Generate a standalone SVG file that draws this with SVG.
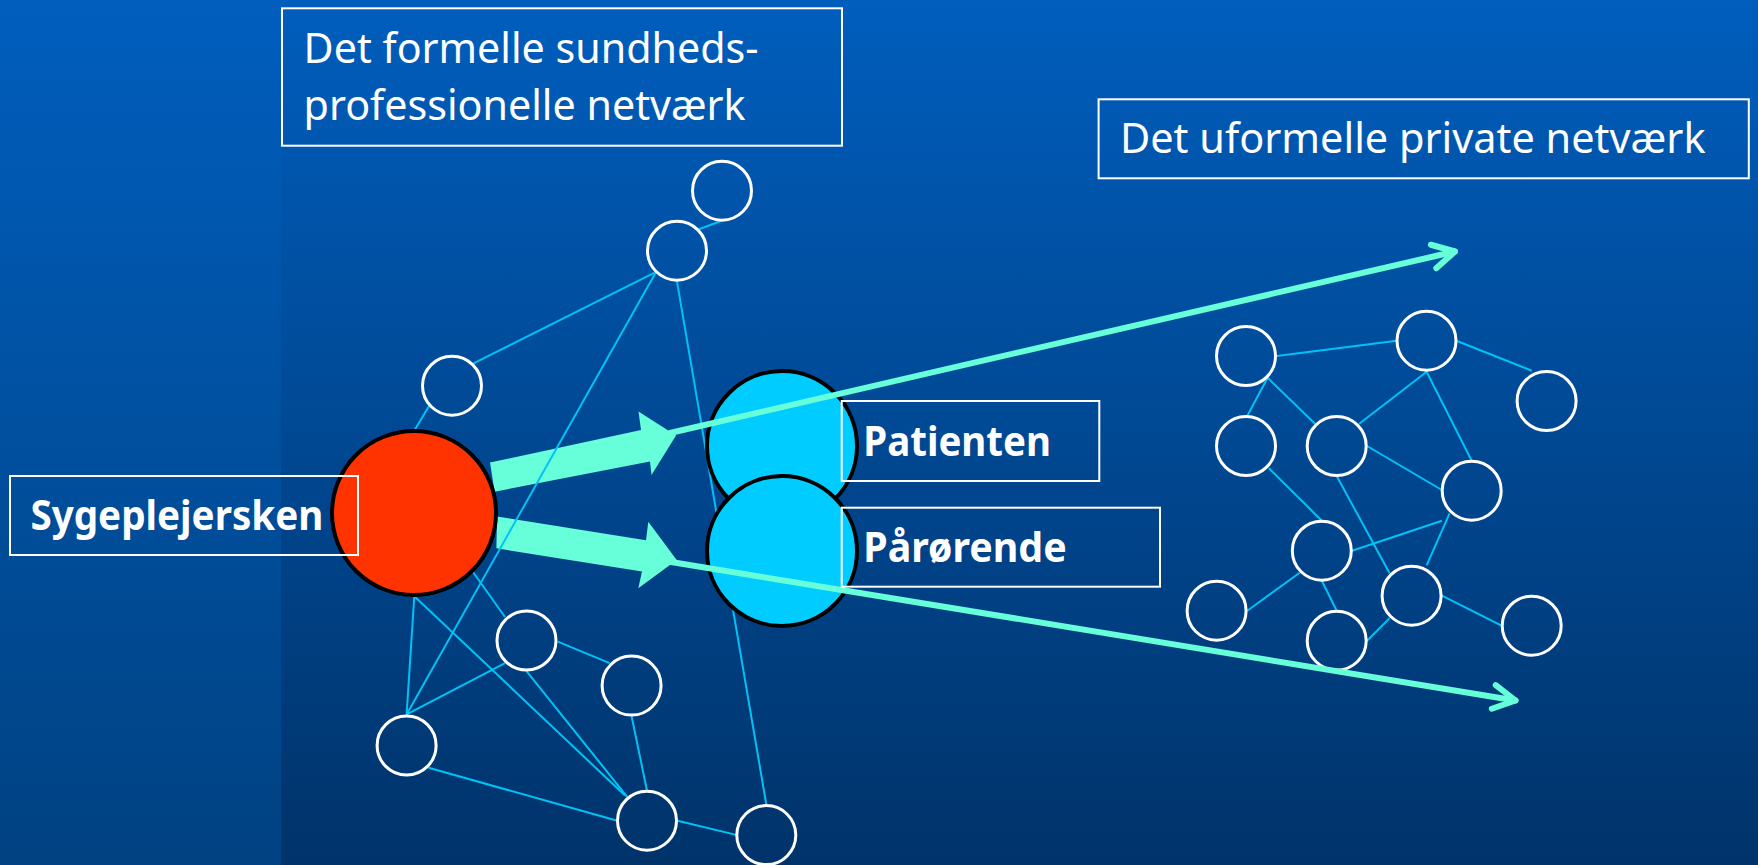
<svg xmlns="http://www.w3.org/2000/svg" width="1758" height="865" viewBox="0 0 1758 865">
<defs>
<linearGradient id="bgMain" x1="0" y1="0" x2="0" y2="1">
<stop offset="0" stop-color="#005EBD"/>
<stop offset="1" stop-color="#00336A"/>
</linearGradient>
<linearGradient id="bgLeft" x1="0" y1="0" x2="0" y2="1">
<stop offset="0" stop-color="#005EBD"/>
<stop offset="1" stop-color="#004282"/>
</linearGradient>
<marker id="openHead" viewBox="-30 -20 40 40" markerWidth="40" markerHeight="40" refX="0" refY="0" orient="auto" markerUnits="userSpaceOnUse">
<path d="M-22,-12 L0,0 L-22,12" fill="none" stroke="#66FFD9" stroke-width="6" stroke-linecap="round" stroke-linejoin="round"/>
</marker>
<style>
.net{stroke:#00C3F5;stroke-width:2;fill:none}
.node{fill:none;stroke:#FFFFFF;stroke-width:3}
.big{stroke:#000000;stroke-width:4}
.box{fill:none;stroke:#FFFFFF;stroke-width:2}
.reg{font-family:"Noto Sans","Open Sans","Liberation Sans",sans-serif;font-size:42px;fill:#FFFFFF}
.bold{font-family:"Noto Sans","Open Sans","Liberation Sans",sans-serif;font-size:42px;font-weight:bold;fill:#FFFFFF}
.block{fill:#66FFD9}
.thin{stroke:#66FFD9;stroke-width:6;fill:none;stroke-linecap:round}
</style>
</defs>

<rect x="0" y="0" width="1758" height="865" fill="url(#bgMain)"/>
<rect x="0" y="0" width="281" height="865" fill="url(#bgLeft)"/>

<g id="block-arrows">
<polygon class="block" points="490,462.5 641,430 638.5,411.5 676,435.5 651.5,475 650,461.5 494.6,491.7"/>
<polygon class="block" points="497,516.5 646,540.2 648.3,521.7 676.7,560 638.3,588.3 642,571.4 496.4,548.3"/>
</g>

<g id="connectors">
<line class="net" x1="721" y1="221" x2="699" y2="229.3"/>
<line class="net" x1="654.6" y1="272.7" x2="473.5" y2="363.3"/>
<line class="net" x1="655.6" y1="272.7" x2="406.6" y2="714.4"/>
<line class="net" x1="677" y1="281.7" x2="766.3" y2="804.5"/>
<line class="net" x1="430" y1="404.5" x2="414.3" y2="430.5"/>
<line class="net" x1="473" y1="572" x2="505" y2="617"/>
<line class="net" x1="414.3" y1="596.2" x2="406.6" y2="714.4"/>
<line class="net" x1="414.3" y1="596.2" x2="625" y2="795.5"/>
<line class="net" x1="557.7" y1="641.6" x2="609.7" y2="663.2"/>
<line class="net" x1="505" y1="663.2" x2="406.6" y2="714.4"/>
<line class="net" x1="526.5" y1="671.2" x2="627.6" y2="797.3"/>
<line class="net" x1="631.6" y1="716.2" x2="647" y2="790.8"/>
<line class="net" x1="428.6" y1="767.8" x2="617.3" y2="820.7"/>
<line class="net" x1="677.6" y1="820.7" x2="737.2" y2="835.1"/>

<line class="net" x1="1276.7" y1="356" x2="1396.8" y2="340.7"/>
<line class="net" x1="1456.4" y1="340.7" x2="1531.8" y2="370.7"/>
<line class="net" x1="1267.6" y1="377.7" x2="1247.3" y2="415.7"/>
<line class="net" x1="1267.6" y1="377.7" x2="1315" y2="423.7"/>
<line class="net" x1="1426.6" y1="371.7" x2="1359.3" y2="423.7"/>
<line class="net" x1="1426.6" y1="371.7" x2="1471.7" y2="460.7"/>
<line class="net" x1="1367" y1="446" x2="1441.9" y2="490"/>
<line class="net" x1="1269" y1="468.3" x2="1321.8" y2="520.7"/>
<line class="net" x1="1336.7" y1="476" x2="1389.6" y2="573.3"/>
<line class="net" x1="1441.9" y1="520.7" x2="1352.1" y2="550.7"/>
<line class="net" x1="1449.6" y1="513.3" x2="1426.6" y2="565.3"/>
<line class="net" x1="1299.7" y1="572.7" x2="1247.3" y2="610.7"/>
<line class="net" x1="1321.8" y1="580.7" x2="1336.7" y2="610.7"/>
<line class="net" x1="1367" y1="640.7" x2="1389.6" y2="618.3"/>
<line class="net" x1="1441.9" y1="595.7" x2="1501.5" y2="625.7"/>
</g>

<g id="node-L1"><circle class="node" cx="722" cy="190.7" r="29.5"/></g>
<g id="node-L2"><circle class="node" cx="677" cy="250.7" r="29.5"/></g>
<g id="node-L3"><circle class="node" cx="452" cy="385.7" r="29.5"/></g>
<g id="node-L4"><circle class="node" cx="526.5" cy="640.5" r="29.5"/></g>
<g id="node-L5"><circle class="node" cx="631.6" cy="685.6" r="29.5"/></g>
<g id="node-L6"><circle class="node" cx="406.6" cy="745.5" r="29.5"/></g>
<g id="node-L7"><circle class="node" cx="647" cy="820.7" r="29.5"/></g>
<g id="node-L8"><circle class="node" cx="766.3" cy="835.1" r="29.5"/></g>

<g id="node-R1"><circle class="node" cx="1246" cy="356" r="29.5"/></g>
<g id="node-R2"><circle class="node" cx="1426.5" cy="340.7" r="29.5"/></g>
<g id="node-R3"><circle class="node" cx="1546.6" cy="401" r="29.5"/></g>
<g id="node-R4"><circle class="node" cx="1246" cy="446" r="29.5"/></g>
<g id="node-R5"><circle class="node" cx="1336.7" cy="446" r="29.5"/></g>
<g id="node-R6"><circle class="node" cx="1471.7" cy="490.7" r="29.5"/></g>
<g id="node-R7"><circle class="node" cx="1321.8" cy="550.7" r="29.5"/></g>
<g id="node-R8"><circle class="node" cx="1411.6" cy="595.7" r="29.5"/></g>
<g id="node-R9"><circle class="node" cx="1216.6" cy="610.7" r="29.5"/></g>
<g id="node-R10"><circle class="node" cx="1336.7" cy="640.7" r="29.5"/></g>
<g id="node-R11"><circle class="node" cx="1531.7" cy="625.7" r="29.5"/></g>

<g id="node-sygeplejersken">
<circle class="big" cx="414" cy="513" r="82" fill="#FF3300"/>
<rect class="box" x="10" y="476" width="348" height="79"/>
<text class="bold" x="30.4" y="530" textLength="293" lengthAdjust="spacingAndGlyphs">Sygeplejersken</text>
</g>

<g id="node-patienten">
<circle class="big" cx="782" cy="446" r="75"/>
</g>
<g id="node-paaroerende">
<circle class="big" cx="782" cy="551" r="75"/>
</g>
<style>#node-patienten circle,#node-paaroerende circle{fill:#00CCFF}</style>

<g id="arrows-out">
<line class="thin" x1="670" y1="433" x2="1455" y2="251.5" marker-end="url(#openHead)"/>
<line class="thin" x1="668" y1="561.5" x2="1515.5" y2="700.5" marker-end="url(#openHead)"/>
</g>

<g id="label-patienten">
<rect class="box" x="841.7" y="401" width="257.6" height="80"/>
<text class="bold" x="863.3" y="456" textLength="187.7" lengthAdjust="spacingAndGlyphs">Patienten</text>
</g>
<g id="label-paaroerende">
<rect class="box" x="841.7" y="507.7" width="318.3" height="79"/>
<text class="bold" x="863.3" y="561.7" textLength="203.4" lengthAdjust="spacingAndGlyphs">Pårørende</text>
</g>

<g id="label-formelle">
<rect class="box" x="282" y="8.3" width="560" height="137.4"/>
<text class="reg" x="303.6" y="63" textLength="455" lengthAdjust="spacingAndGlyphs">Det formelle sundheds-</text>
<text class="reg" x="303.6" y="120" textLength="442" lengthAdjust="spacingAndGlyphs">professionelle netværk</text>
</g>

<g id="label-uformelle">
<rect class="box" x="1098.6" y="99.3" width="650.2" height="79"/>
<text class="reg" x="1120" y="153.3" textLength="585.6" lengthAdjust="spacingAndGlyphs">Det uformelle private netværk</text>
</g>
</svg>
